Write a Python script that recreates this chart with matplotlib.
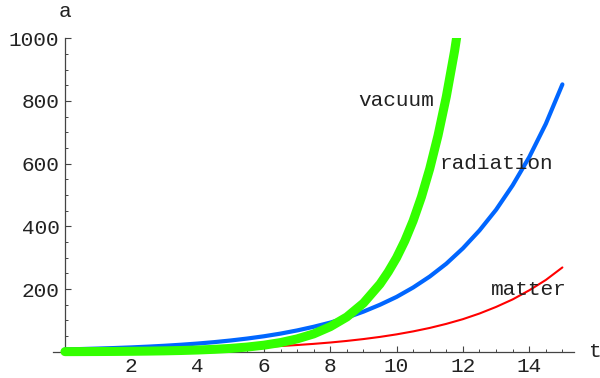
import matplotlib.pyplot as plt
from matplotlib.ticker import MultipleLocator, FixedLocator

# scale factor a(t) for the three cosmological models
t_vals = [0, 0.5, 1, 1.5, 2, 2.5, 3, 3.5, 4, 4.5, 5, 5.5, 6, 6.5, 7, 7.5,
          8, 8.5, 9, 9.5, 10, 10.5, 11, 11.5, 12, 12.5, 13, 13.5, 14, 14.5, 15]
a_matter = [2.4, 2.8, 3.2, 3.75, 4.4, 5.15, 6.1, 7.15, 8.3, 9.7, 11.4, 13.4, 15.6, 18.3,
            21.5, 25.2, 29.5, 34.6, 40.5, 47.4, 55.5, 65, 76, 89, 104, 122, 143, 167,
            196, 229, 269]
a_radiation = [7.4, 8.7, 10.2, 11.9, 13.9, 16.3, 19.1, 22.4, 26.2, 30.7, 36, 42.2, 49.4,
               57.9, 68, 79.7, 93, 109, 128, 150, 175, 205, 240, 281, 330, 387, 453, 531,
               621, 727, 853]

t_vac = [0, 0.5, 1, 1.5, 2, 2.5, 3, 3.5, 4, 4.5, 5, 5.5, 6, 6.5, 7, 7.5, 8, 8.5, 9,
         9.5, 9.75, 10, 10.25, 10.5, 10.75, 11, 11.25, 11.5, 11.75, 12]
a_vacuum = [0.4, 0.55, 0.76, 1.06, 1.5, 2.09, 2.9, 4.04, 5.6, 7.8, 10.8, 15.1, 21, 29.3,
            41, 57, 80, 111, 155, 216, 255, 300, 354, 418, 494, 584, 690, 814, 960, 1134]

labels = ["vacuum", "radiation", "matter"]
label_pos = [(10, 800), (13, 600), (14, 200)]

mono = "Liberation Mono"
fs = 15.2

fig = plt.figure(figsize=(6, 3.78), dpi=100)
# axes placed so that t=-0.36..15.35 and a=-40..1000 fill it
ax = fig.add_axes([53 / 600, (378 - 364.3) / 378, 521 / 600, (364.3 - 38.3) / 378])
ax.set_xlim(-0.36, 15.35)
ax.set_ylim(-40, 1000)

ax.plot(t_vals, a_matter, color="#ff0000", lw=1.5, solid_capstyle="round", zorder=3)
ax.plot(t_vals, a_radiation, color="#0066ff", lw=3.0, solid_capstyle="round", zorder=4)
ax.plot(t_vac, a_vacuum, color="#33ff00", lw=6.5, solid_capstyle="round", zorder=5)

for txt, (x, y) in zip(labels, label_pos):
    ax.text(x, y, txt, family=mono, fontsize=fs, ha="center", va="center",
            color="#222222", zorder=6)

# Mathematica-style axes crossing at the origin
for side in ["top", "right"]:
    ax.spines[side].set_visible(False)
ax.spines["left"].set_position(("data", 0))
ax.spines["bottom"].set_position(("data", 0))
ax.spines["left"].set_bounds(0, 1000)
ax.spines["bottom"].set_bounds(-0.36, 15.35)
for side in ["left", "bottom"]:
    ax.spines[side].set_color("#444444")
    ax.spines[side].set_linewidth(0.9)
    ax.spines[side].set_zorder(2)

ax.xaxis.set_major_locator(FixedLocator([2, 4, 6, 8, 10, 12, 14]))
ax.xaxis.set_minor_locator(MultipleLocator(0.5))
ax.yaxis.set_major_locator(FixedLocator([200, 400, 600, 800, 1000]))
ax.yaxis.set_minor_locator(FixedLocator(list(range(50, 1000, 50))))

ax.tick_params(which="major", direction="in", length=4, width=0.8, color="#444444")
ax.tick_params(which="minor", direction="in", length=2, width=0.7, color="#444444")
ax.tick_params(axis="x", which="major", pad=3.5)
ax.tick_params(axis="y", which="major", pad=4)
for lab in ax.get_xticklabels() + ax.get_yticklabels():
    lab.set_family(mono)
    lab.set_fontsize(fs)
    lab.set_color("#222222")

ax.text(0, 1085, "a", family=mono, fontsize=fs, ha="center", va="center",
        color="#222222", clip_on=False)
ax.text(15.8, 0, "t", family=mono, fontsize=fs, ha="left", va="center",
        color="#222222", clip_on=False)

fig.savefig("out.png", dpi=100)
